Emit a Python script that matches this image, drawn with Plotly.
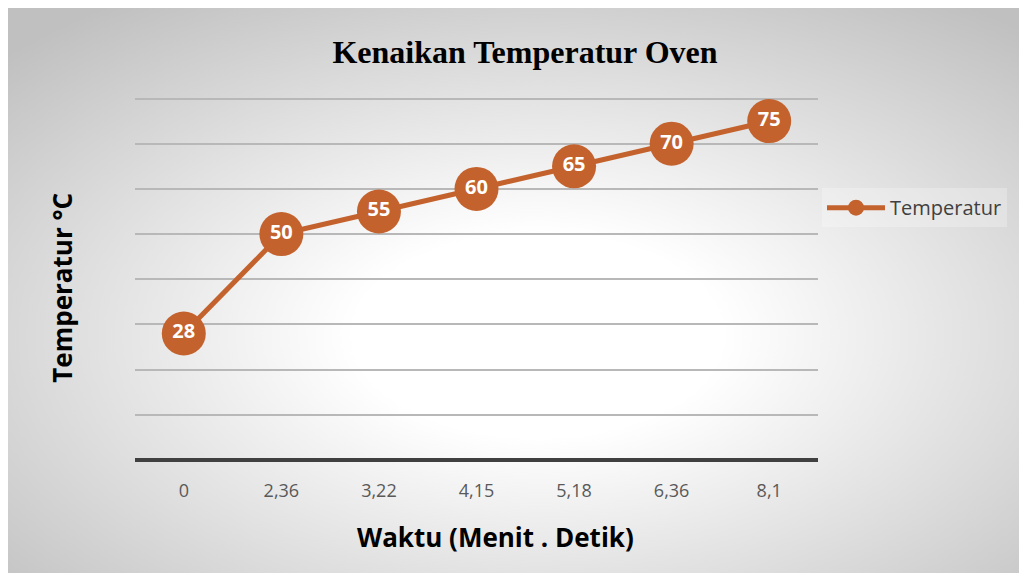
import base64
import plotly.graph_objects as go

waktu = ["0", "2,36", "3,22", "4,15", "5,18", "6,36", "8,1"]
temperatur = [28, 50, 55, 60, 65, 70, 75]
series_name = "Temperatur"
chart_title = "Kenaikan Temperatur Oven"
x_title = "Waktu (Menit . Detik)"
y_title = "Temperatur °C"
y_max_grid = 80
y_range_top = 81

OFF = 8  # page body margin
W, H = 1027 - OFF, 573 - OFF
unit = (460 - 99) / y_max_grid
top_px = 460 - unit * y_range_top
L, T = 135 - OFF, top_px - OFF
R = W - (818 - OFF)
B = H - (460 - OFF)
pw, ph = W - L - R, H - T - B


def px_x(sx):
    return (sx - OFF - L) / pw


def px_y(sy):
    return 1 - (sy - OFF - T) / ph


orange = "#C4622D"

svg = (
    '<svg xmlns="http://www.w3.org/2000/svg" width="1019" height="565" viewBox="0 0 1019 565" preserveAspectRatio="none">'
    '<defs><radialGradient id="g" cx="0.52" cy="0.58" r="0.72" fx="0.52" fy="0.58">'
    '<stop offset="0" stop-color="#ffffff"/>'
    '<stop offset="0.25" stop-color="#ffffff"/>'
    '<stop offset="1" stop-color="#c0c0c0"/>'
    '</radialGradient></defs>'
    '<rect x="0" y="0" width="1019" height="565" fill="url(#g)"/></svg>'
)
src = "data:image/svg+xml;base64," + base64.b64encode(svg.encode()).decode()

fig = go.Figure()
fig.add_trace(go.Scatter(
    x=waktu, y=temperatur, name=series_name,
    mode="lines+markers+text",
    line=dict(color=orange, width=5),
    marker=dict(color=orange, size=44, line=dict(width=0)),
    text=[str(v) for v in temperatur],
    textposition="middle center",
    textfont=dict(family="Open Sans", size=20, color="white", weight="bold"),
    showlegend=True,
))

fig.update_layout(
    width=W, height=H,
    margin=dict(l=L, r=R, t=T, b=B),
    paper_bgcolor="white",
    plot_bgcolor="rgba(0,0,0,0)",
    title=dict(text=chart_title, x=(525 - OFF) / W, xanchor="center",
               y=1 - (52 - OFF) / H, yanchor="middle", yref="container",
               font=dict(family="Liberation Serif", size=32, color="black", weight="bold")),
    xaxis=dict(type="category", range=[-0.5, 6.5], showgrid=False, zeroline=False,
               showline=False, ticks="outside", ticklen=14, tickcolor="rgba(0,0,0,0)",
               tickfont=dict(family="Open Sans", size=18, color="#595959")),
    yaxis=dict(range=[0, y_range_top], dtick=10, showticklabels=False, showgrid=True,
               gridcolor="#b8b8b8", gridwidth=1.5, zeroline=True, zerolinecolor="#404040",
               zerolinewidth=3.5, showline=False),
    legend=dict(x=px_x(822), y=px_y(208), xanchor="left", yanchor="middle",
                bgcolor="rgba(255,255,255,0.25)",
                font=dict(family="Open Sans", size=20, color="#404040"),
                itemwidth=58),
    images=[dict(source=src, xref="paper", yref="paper",
                 x=-L / pw, y=1 + T / ph,
                 sizex=W / pw, sizey=H / ph,
                 sizing="stretch", xanchor="left", yanchor="top", layer="below")],
    annotations=[
        dict(text=x_title, xref="paper", yref="paper", x=px_x(495), y=px_y(537),
             xanchor="center", yanchor="middle", showarrow=False,
             font=dict(family="Open Sans", size=26, color="black", weight="bold")),
        dict(text=y_title, xref="paper", yref="paper", x=px_x(62), y=px_y(288),
             xanchor="center", yanchor="middle", showarrow=False, textangle=-90,
             font=dict(family="Open Sans", size=26, color="black", weight="bold")),
    ],
)

fig.write_html("out.html")
